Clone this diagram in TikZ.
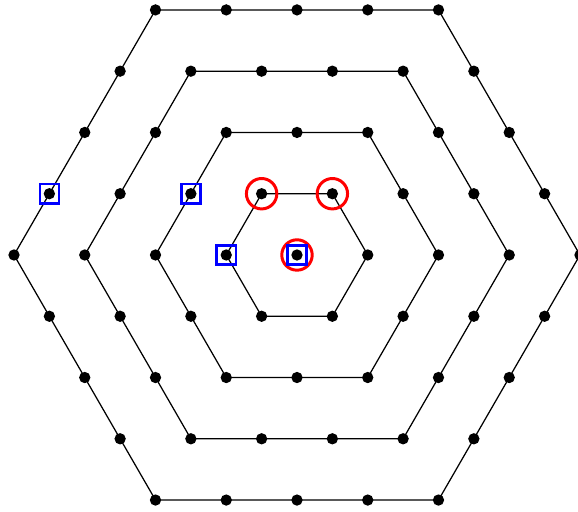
\documentclass[tikz,border=0pt]{standalone}
\usetikzlibrary{calc}
\tikzset{
  dot/.style={circle, fill=black, inner sep=0pt, minimum size=0.16cm},
  ring/.style={line width=0.5pt},
  redmark/.style={circle, draw=red, line width=1.2pt, inner sep=0pt, minimum size=0.43cm},
  bluemark/.style={rectangle, draw=blue, line width=1pt, inner sep=0pt, minimum size=0.27cm}
}
\begin{document}
\begin{tikzpicture}[x=1cm,y=1cm]
\useasboundingbox (-4.198,-3.632) rectangle (3.972,3.604);
% centre point
\node[dot] (c) at (0,0) {};
% dots on the hexagonal rings
\foreach \k in {1,...,4}{
  \foreach \j in {0,...,5}{
    \foreach \i in {1,...,\k}{
      \pgfmathtruncatemacro\n{\j*\k+\i-1}
      \node[dot] (d-\k-\n) at ($(\j*60:\k)!{(\i-1)/\k}!(\j*60+60:\k)$) {};
    }
  }
}
% ring outlines through the corners
\foreach \k in {1,...,4}{
  \pgfmathtruncatemacro\ca{\k}
  \pgfmathtruncatemacro\cb{2*\k}
  \pgfmathtruncatemacro\cc{3*\k}
  \pgfmathtruncatemacro\cd{4*\k}
  \pgfmathtruncatemacro\ce{5*\k}
  \draw[ring] (d-\k-0.center) -- (d-\k-\ca.center) -- (d-\k-\cb.center) -- (d-\k-\cc.center)
    -- (d-\k-\cd.center) -- (d-\k-\ce.center) -- cycle;
}
% marked points
\node[redmark] (r1) at (d-1-1) {};
\node[redmark] (r2) at (d-1-2) {};
\node[redmark] (r0) at (c) {};
\node[bluemark] (b0) at (c) {};
\node[bluemark] (b1) at (d-1-3) {};
\node[bluemark] (b2) at (d-2-5) {};
\node[bluemark] (b4) at (d-4-11) {};
\end{tikzpicture}
\end{document}
